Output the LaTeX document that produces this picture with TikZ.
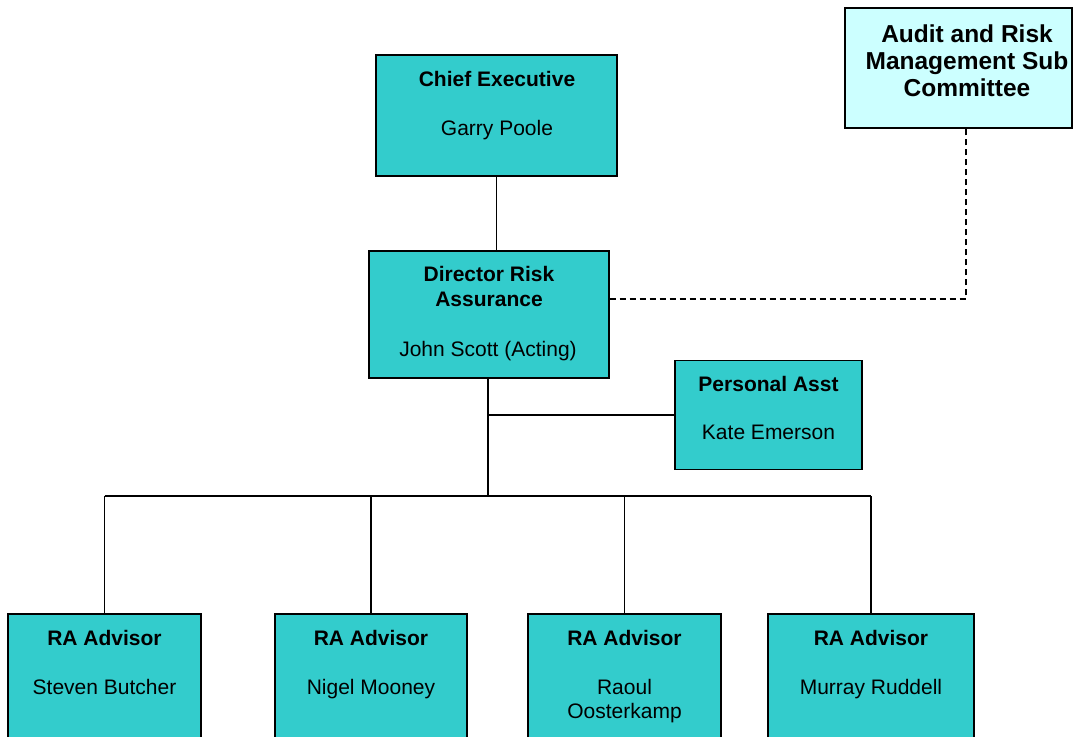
\documentclass[tikz,border=0pt]{standalone}
\usepackage{fontspec}
\setmainfont{Liberation Sans}
\definecolor{boxteal}{HTML}{33CCCC}
\definecolor{boxpale}{HTML}{CCFFFF}
\begin{document}
\begin{tikzpicture}[x=1pt,y=-1pt,
  box/.style={draw=black, line width=1.3pt, fill=boxteal, inner sep=0pt},
  palebox/.style={box, fill=boxpale},
  ttl/.style={anchor=base, inner sep=0pt, font=\fontsize{21}{25}\selectfont\bfseries},
  nm/.style={anchor=base, inner sep=0pt, font=\fontsize{21}{25}\selectfont},
  aud/.style={anchor=base, inner sep=0pt, font=\fontsize{24.5}{28}\selectfont\bfseries},
  conn/.style={draw=black, line width=1.1pt},
  trunk/.style={draw=black, line width=2.2pt},
  dashline/.style={draw=black, line width=1.1pt, dash pattern=on 6pt off 4pt}]
\clip (0,0) rectangle (1075,736);
\fill[white] (0,0) rectangle (1075,736);
% boxes
\node[box, minimum width=241pt, minimum height=121pt] (ce) at (496.5,115.5) {};
\node[palebox, minimum width=227pt, minimum height=120pt] (aud) at (958.5,68) {};
\node[box, minimum width=240pt, minimum height=127pt] (dra) at (489,314.5) {};
\node[box, minimum width=187pt, minimum height=109pt] (pa) at (768.5,415) {};
\node[box, minimum width=193pt, minimum height=150pt] (ra1) at (104.5,689) {};
\node[box, minimum width=192pt, minimum height=150pt] (ra2) at (371,689) {};
\node[box, minimum width=193pt, minimum height=150pt] (ra3) at (624.5,689) {};
\node[box, minimum width=206pt, minimum height=150pt] (ra4) at (871,689) {};
% texts
\node[ttl] (ce-t) at (497,86) {Chief Executive};
\node[nm] (ce-n) at (497,135.5) {Garry Poole};
\node[aud] (aud-1) at (967,42) {Audit and Risk};
\node[aud] (aud-2) at (967,69.3) {Management Sub};
\node[aud] (aud-3) at (967,96.6) {Committee};
\node[ttl] (dra-t1) at (489,281.7) {Director Risk};
\node[ttl] (dra-t2) at (489,306.7) {Assurance};
\node[nm] (dra-n) at (488,356) {John Scott (Acting)};
\node[ttl] (pa-t) at (768.5,391) {Personal Asst};
\node[nm] (pa-n) at (768.5,439.3) {Kate Emerson};
\node[ttl] (ra1-t) at (104.5,645) {RA Advisor};
\node[nm] (ra1-n) at (104.5,694.3) {Steven Butcher};
\node[ttl] (ra2-t) at (371,645) {RA Advisor};
\node[nm] (ra2-n) at (371,694.3) {Nigel Mooney};
\node[ttl] (ra3-t) at (624.5,645) {RA Advisor};
\node[nm] (ra3-n1) at (624.5,694.3) {Raoul};
\node[nm] (ra3-n2) at (624.5,718.3) {Oosterkamp};
\node[ttl] (ra4-t) at (871,645) {RA Advisor};
\node[nm] (ra4-n) at (871,694.3) {Murray Ruddell};
% connectors
\coordinate (bus) at (488,496);
\coordinate (dk) at (966,299);
\draw[conn] (ce.south) -- (ce.south |- dra.north);
\draw[trunk] (dra.south -| bus) -- (bus);
\draw[conn] (pa.west) -- (pa.west -| bus);
\draw[conn] (ra1.north |- bus) -- (ra4.north |- bus);
\foreach \r in {ra1,ra2,ra3,ra4} {\draw[conn] (\r.north) -- (\r.north |- bus);}
\draw[dashline] (dra.east |- dk) -- (dk) -- (dk |- aud.south);
\end{tikzpicture}
\end{document}
